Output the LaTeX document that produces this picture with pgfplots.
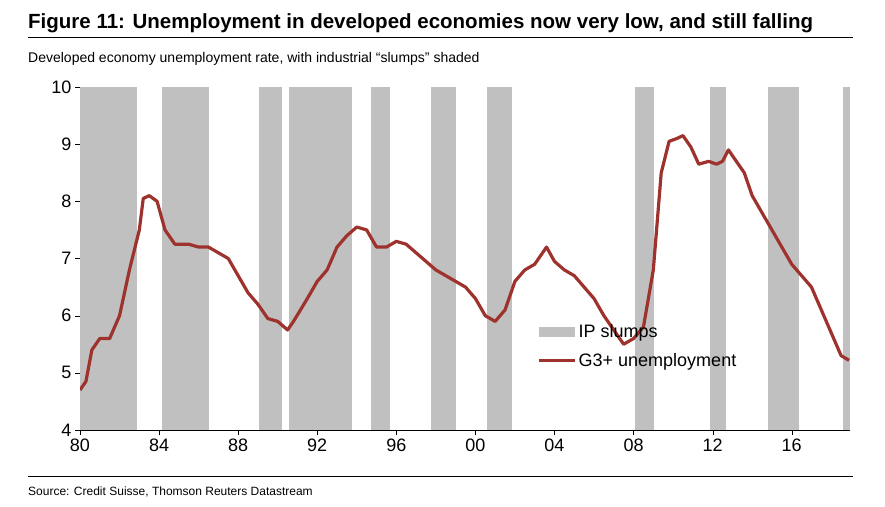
\documentclass[border=0pt]{standalone}
\usepackage{pgfplots}
\pgfplotsset{compat=1.18}
\usepackage{fontspec}
\setmainfont{Liberation Sans}
\definecolor{slump}{RGB}{192,192,192}
\definecolor{unem}{RGB}{158,50,45}
\begin{document}
\begin{tikzpicture}[x=1pt,y=1pt]
\path (0,0) rectangle (885,-506);
\node[anchor=base west,inner sep=0,font=\fontsize{20.5}{22}\selectfont\bfseries] at (28,-28) {Figure 11: Unemployment in developed economies now very low, and still falling};
\draw[line width=0.8pt] (28,-37) -- (853,-37);
\node[anchor=base west,inner sep=0,font=\fontsize{14}{16}\selectfont] at (28,-62) {Developed economy unemployment rate, with industrial “slumps” shaded};
\draw[line width=0.5pt] (28,-476) -- (853,-476);
\node[anchor=base west,inner sep=0,font=\fontsize{12}{14}\selectfont] at (28,-495) {Source: Credit Suisse, Thomson Reuters Datastream};
\begin{axis}[at={(80pt,-430pt)},anchor=south west,scale only axis,width=770pt,height=343pt,
 xmin=1980,xmax=2018.95,ymin=4,ymax=10,
 axis lines=left, axis line style={-},
 xtick={1980,1984,...,2016},xticklabels={80,84,88,92,96,00,04,08,12,16},
 ytick={4,5,...,10},
 tick style={black}, tick align=outside, major tick length=5pt,
 ticklabel style={font=\fontsize{18}{20}\selectfont},
 /pgf/number format/assume math mode=true,
 legend style={draw=none,fill=none,at={(0.59,0.32)},anchor=north west,font=\fontsize{18}{20}\selectfont,row sep=10pt},
 legend cell align=left,
 clip=true]
\addplot[fill=slump,draw=none,legend image code/.code={\fill[slump] (0pt,-5pt) rectangle (36pt,5pt);}] coordinates {(1980,4)(1980,10)(1982.88,10)(1982.88,4)} -- cycle;
\addlegendentry{IP slumps}
\addplot[fill=slump,draw=none,forget plot] coordinates {(1984.15,4)(1984.15,10)(1986.52,10)(1986.52,4)} -- cycle;
\addplot[fill=slump,draw=none,forget plot] coordinates {(1989.05,4)(1989.05,10)(1990.21,10)(1990.21,4)} -- cycle;
\addplot[fill=slump,draw=none,forget plot] coordinates {(1990.57,4)(1990.57,10)(1993.75,10)(1993.75,4)} -- cycle;
\addplot[fill=slump,draw=none,forget plot] coordinates {(1994.71,4)(1994.71,10)(1995.67,10)(1995.67,4)} -- cycle;
\addplot[fill=slump,draw=none,forget plot] coordinates {(1997.75,4)(1997.75,10)(1999.01,10)(1999.01,4)} -- cycle;
\addplot[fill=slump,draw=none,forget plot] coordinates {(2000.58,4)(2000.58,10)(2001.84,10)(2001.84,4)} -- cycle;
\addplot[fill=slump,draw=none,forget plot] coordinates {(2008.06,4)(2008.06,10)(2009.02,10)(2009.02,4)} -- cycle;
\addplot[fill=slump,draw=none,forget plot] coordinates {(2011.85,4)(2011.85,10)(2012.66,10)(2012.66,4)} -- cycle;
\addplot[fill=slump,draw=none,forget plot] coordinates {(2014.78,4)(2014.78,10)(2016.35,10)(2016.35,4)} -- cycle;
\addplot[fill=slump,draw=none,forget plot] coordinates {(2018.57,4)(2018.57,10)(2018.95,10)(2018.95,4)} -- cycle;
\addplot[unem,line width=3.2pt,line join=round,legend image code/.code={\draw[unem,line width=3.2pt] (0pt,0pt) -- (36pt,0pt);}] coordinates {
(1980.0,4.7)(1980.3,4.85)(1980.6,5.4)(1981.0,5.6)(1981.5,5.6)(1982.0,6.0)(1982.5,6.8)(1983.0,7.5)(1983.2,8.05)(1983.5,8.1)(1983.9,8.0)(1984.3,7.5)(1984.8,7.25)(1985.5,7.25)(1986.0,7.2)(1986.5,7.2)(1987.0,7.1)(1987.5,7.0)(1988.0,6.7)(1988.5,6.4)(1989.0,6.2)(1989.5,5.95)(1990.0,5.9)(1990.5,5.75)(1990.8,5.9)(1991.5,6.3)(1992.0,6.6)(1992.5,6.8)(1993.0,7.2)(1993.5,7.4)(1994.0,7.55)(1994.5,7.5)(1995.0,7.2)(1995.5,7.2)(1996.0,7.3)(1996.5,7.25)(1997.0,7.1)(1997.5,6.95)(1998.0,6.8)(1998.5,6.7)(1999.0,6.6)(1999.5,6.5)(2000.0,6.3)(2000.5,6.0)(2001.0,5.9)(2001.5,6.1)(2002.0,6.6)(2002.5,6.8)(2003.0,6.9)(2003.6,7.2)(2004.0,6.95)(2004.5,6.8)(2005.0,6.7)(2005.5,6.5)(2006.0,6.3)(2006.5,6.0)(2007.0,5.75)(2007.5,5.5)(2008.0,5.6)(2008.5,5.8)(2009.0,6.8)(2009.4,8.5)(2009.8,9.05)(2010.2,9.1)(2010.5,9.15)(2010.9,8.95)(2011.3,8.65)(2011.8,8.7)(2012.2,8.65)(2012.5,8.7)(2012.8,8.9)(2013.2,8.7)(2013.6,8.5)(2014.0,8.1)(2014.5,7.8)(2015.0,7.5)(2015.5,7.2)(2016.0,6.9)(2016.5,6.7)(2017.0,6.5)(2017.5,6.1)(2018.0,5.7)(2018.5,5.3)(2018.9,5.22)};
\addlegendentry{G3+ unemployment}
\end{axis}
\end{tikzpicture}
\end{document}
